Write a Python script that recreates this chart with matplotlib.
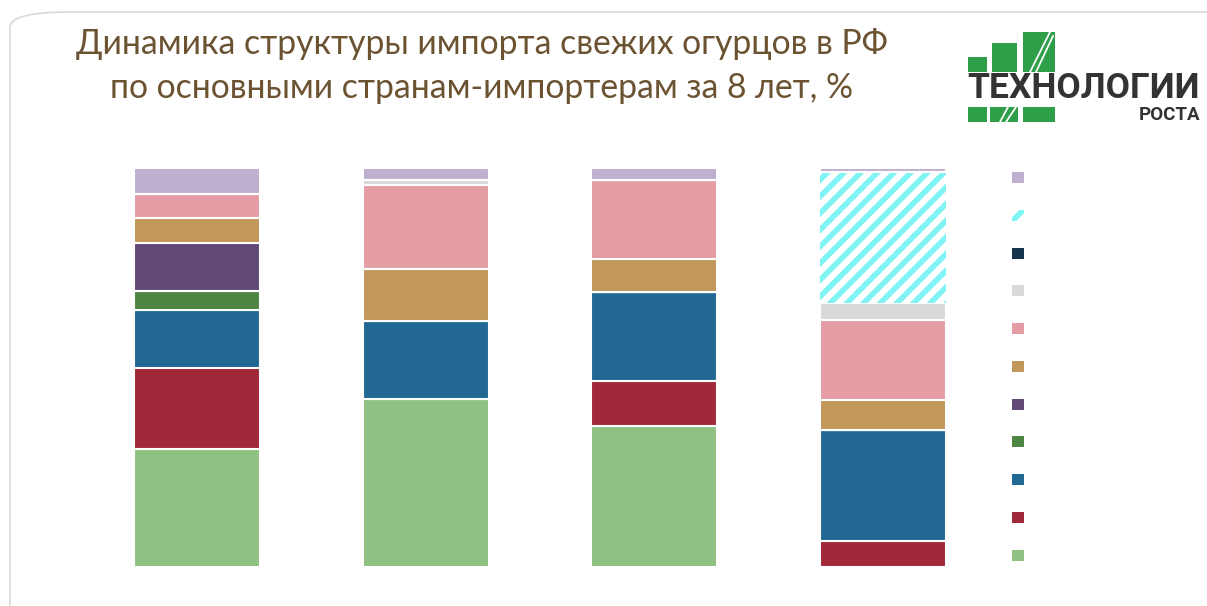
import matplotlib
matplotlib.use("Agg")
import matplotlib.pyplot as plt
from matplotlib.patches import Patch, FancyBboxPatch, Rectangle
import numpy as np

plt.rcParams['font.family'] = ['Lato', 'DejaVu Sans']
plt.rcParams['hatch.linewidth'] = 4.0

# --- data (shares, %) ---
periods = ["Период 1", "Период 2", "Период 3", "Период 4"]
s1_green = [29.6, 42.0, 35.4, 0.0]
s2_red = [20.4, 0.0, 11.2, 6.5]
s3_blue = [14.3, 19.7, 22.2, 27.8]
s4_darkgreen = [4.8, 0.0, 0.0, 0.0]
s5_purple = [12.0, 0.0, 0.0, 0.0]
s6_tan = [6.4, 12.9, 8.4, 7.5]
s7_pink = [6.1, 21.1, 19.9, 20.0]
s8_gray = [0.0, 1.3, 0.0, 4.4]
s9_navy = [0.0, 0.0, 0.0, 0.0]
s10_cyan = [0.0, 0.0, 0.0, 32.7]
s11_lavender = [6.5, 3.0, 2.8, 1.1]

series_values = [s1_green, s2_red, s3_blue, s4_darkgreen, s5_purple, s6_tan,
                 s7_pink, s8_gray, s9_navy, s10_cyan, s11_lavender]
colors = ["#8FC183", "#A12838", "#216893", "#4E8542", "#614A78", "#C1975A",
          "#E49DA5", "#D9D9D9", "#17344F", "#80F4F4", "#BFB0D2"]
hatched = [False] * 9 + [True, False]

title = "Динамика структуры импорта свежих огурцов в РФ\nпо основными странам-импортерам за 8 лет, %"

fig = plt.figure(figsize=(12.07, 6.06), dpi=100)
fig.patch.set_facecolor("white")

# rounded frame
frame = FancyBboxPatch((10 / 1207, -0.2), 1.2, (606 - 12) / 606 + 0.2,
                       boxstyle="round,pad=0,rounding_size=0.05",
                       transform=fig.transFigure, facecolor="white",
                       edgecolor="#D9D9D9", linewidth=1.2, zorder=-5,
                       mutation_aspect=606 / 1207)
fig.patches.append(frame)

ax = fig.add_axes([82.7 / 1207, 39 / 606, 914.6 / 1207, 399 / 606])
ax.set_facecolor("none")
ax.set_zorder(2)
x = np.arange(len(periods))
bottom = np.zeros(len(periods))
handles = []
for vals, col, h in zip(series_values, colors, hatched):
    vals = np.array(vals)
    if h:
        ax.bar(x, vals, width=0.55, bottom=bottom, facecolor="white",
               edgecolor=col, linewidth=0, hatch="//", zorder=2)
        handles.append(Patch(facecolor="white", edgecolor=col, hatch="//", linewidth=0))
    else:
        ax.bar(x, vals, width=0.55, bottom=bottom, color=col,
               edgecolor="white", linewidth=1.5, zorder=2)
        handles.append(Patch(facecolor=col, edgecolor="none"))
    bottom += vals

ax.set_xlim(-0.5, 3.5)
ax.set_ylim(0, 100)
ax.axis("off")

leg = fig.legend(handles[::-1], [" "] * len(handles), loc="upper left",
                 bbox_to_anchor=(1012 / 1207, 1 - 172 / 606), frameon=False,
                 fontsize=10, handlelength=0.85, handleheight=0.85,
                 labelspacing=1.83, borderpad=0, borderaxespad=0, handletextpad=0.3)

fig.text(482 / 1207, 1 - 66 / 606, title, ha="center", va="center",
         fontsize=24.3, color="#6B5332", linespacing=1.45)

# logo
green = "#2E9E48"
def frect(x0, y0, x1, y1, c=green):
    fig.patches.append(Rectangle((x0 / 1207, 1 - y1 / 606), (x1 - x0) / 1207, (y1 - y0) / 606,
                                 transform=fig.transFigure, facecolor=c, edgecolor="none", zorder=3))
def fline(x0, y0, x1, y1, lw=1.3):
    fig.lines.append(plt.Line2D([x0 / 1207, x1 / 1207], [1 - y0 / 606, 1 - y1 / 606],
                                transform=fig.transFigure, color="white", lw=lw, zorder=4))
frect(968, 57, 987, 72)
frect(992, 43, 1017, 72)
frect(1023, 32, 1055, 72)
frect(968, 107, 987, 122)
frect(990, 107, 1018, 122)
frect(1023, 107, 1055, 122)
# white slashes
fline(1030, 72, 1050, 32)
fline(1036, 72, 1053, 36)
fline(1000, 122, 1008, 107)
fline(1006, 122, 1016, 107)
fig.text(967 / 1207, 1 - 89 / 606, "ТЕХНОЛОГИИ", ha="left", va="center",
         fontsize=25.5, fontweight="bold", color="#333333", family=["Roboto", "DejaVu Sans"])
fig.text(1200 / 1207, 1 - 115 / 606, "РОСТА", ha="right", va="center",
         fontsize=13.5, fontweight="bold", color="#333333", family=["Roboto", "DejaVu Sans"])

fig.savefig("out.png", dpi=100)
